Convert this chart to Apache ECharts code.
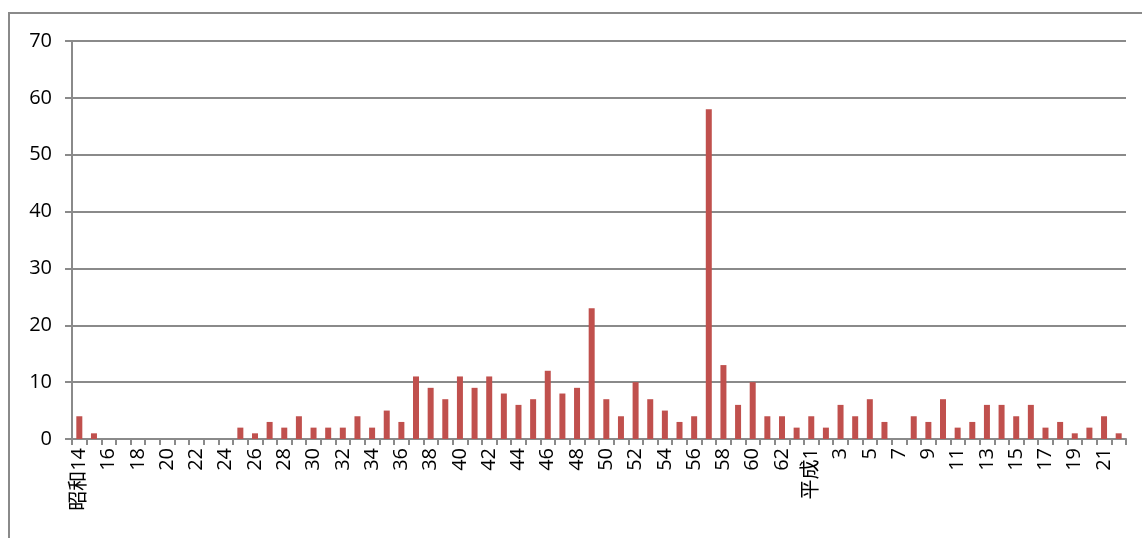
<!DOCTYPE html>
<html>
<head>
<meta charset="utf-8">
<script src="https://cdn.jsdelivr.net/npm/echarts@6/dist/echarts.min.js"></script>
<style>
  html, body { margin: 0; padding: 0; background: #fff; }
  #chart { width: 1142px; height: 538px; }
</style>
</head>
<body>
<div id="chart"></div>
<script>
// 昭和14〜63, 平成1〜22
const showaYears = [];
for (let y = 14; y <= 63; y++) showaYears.push(y === 14 ? '昭和14' : String(y));
const heiseiYears = [];
for (let y = 1; y <= 22; y++) heiseiYears.push(y === 1 ? '平成1' : String(y));
const categories = showaYears.concat(heiseiYears);

const showaValues = [
  4, 1, 0, 0, 0, 0, 0, 0, 0, 0, 0, 2, 1, 3, 2, 4, 2, 2, 2, 4,
  2, 5, 3, 11, 9, 7, 11, 9, 11, 8, 6, 7, 12, 8, 9, 23, 7, 4, 10, 7,
  5, 3, 4, 58, 13, 6, 10, 4, 4, 2
];
const heiseiValues = [
  4, 2, 6, 4, 7, 3, 0, 4, 3, 7, 2, 3, 6, 6, 4, 6, 2, 3, 1, 2, 4, 1
];
const values = showaValues.concat(heiseiValues);

const yTicks = [0, 10, 20, 30, 40, 50, 60, 70];

const chart = echarts.init(document.getElementById('chart'));
const textFont = "'Open Sans', 'Noto Sans CJK JP', sans-serif";

chart.setOption({
  animation: false,
  graphic: [
    {
      type: 'rect',
      shape: { x: 9, y: 13, width: 1300, height: 700 },
      style: { fill: 'none', stroke: '#8a8a8a', lineWidth: 2 }
    }
  ],
  grid: { left: 72, right: 16, top: 41, bottom: 99 },
  xAxis: {
    type: 'category',
    data: categories,
    axisLine: { lineStyle: { color: '#8a8a8a', width: 2 } },
    axisTick: { show: true, interval: 0, length: 6, lineStyle: { color: '#8a8a8a', width: 2 } },
    axisLabel: {
      interval: 1,
      rotate: 90,
      margin: 9,
      color: '#000',
      fontSize: 20,
      fontFamily: textFont
    }
  },
  yAxis: {
    type: 'value',
    min: yTicks[0],
    max: yTicks[yTicks.length - 1],
    interval: 10,
    axisLine: { show: true, lineStyle: { color: '#8a8a8a', width: 2 } },
    axisTick: { show: true, length: 7, lineStyle: { color: '#8a8a8a', width: 2 } },
    axisLabel: { color: '#000', fontSize: 20, margin: 20, fontFamily: textFont },
    splitLine: { lineStyle: { color: '#8a8a8a', width: 2 } }
  },
  series: [
    {
      type: 'bar',
      data: values,
      barWidth: 6,
      itemStyle: { color: '#C0504D' }
    }
  ]
});
</script>
</body>
</html>
